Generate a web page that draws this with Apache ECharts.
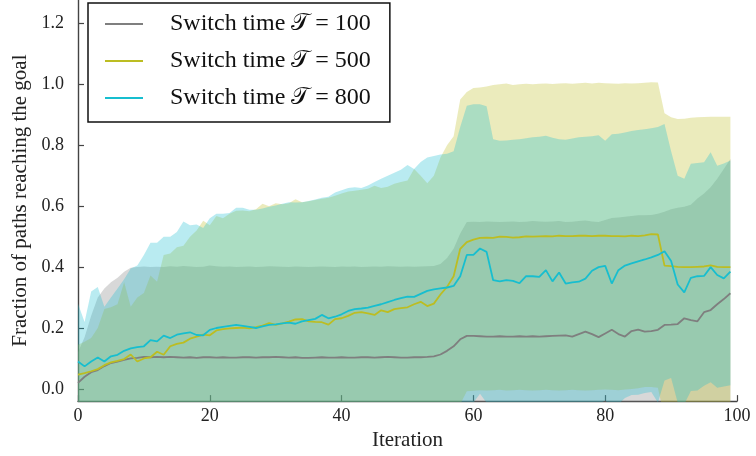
<!DOCTYPE html>
<html>
<head>
<meta charset="utf-8">
<script src="https://cdn.jsdelivr.net/npm/echarts@6/dist/echarts.min.js"></script>
<style>
  html, body { margin: 0; padding: 0; background: #fff; }
  #chart { width: 756px; height: 456px; }
</style>
</head>
<body>
<div id="chart"></div>
<script>
// Iteration categories 0..100 (data runs over 0..99, the axis ends at 100)
const iterations = Array.from({ length: 101 }, (_, i) => String(i));

// Switch time T = 100: mean and band
const grayMean = [
  0.02, 0.04, 0.055, 0.062, 0.075, 0.085, 0.09, 0.095, 0.1, 0.102,
  0.105, 0.104, 0.105, 0.104, 0.105, 0.104, 0.103, 0.104, 0.102, 0.104,
  0.104, 0.103, 0.104, 0.103, 0.103, 0.104, 0.104, 0.103, 0.104, 0.104,
  0.105, 0.104, 0.103, 0.104, 0.102, 0.102, 0.103, 0.104, 0.103, 0.103,
  0.104, 0.103, 0.103, 0.104, 0.104, 0.103, 0.104, 0.105, 0.104, 0.103,
  0.103, 0.104, 0.104, 0.105, 0.107, 0.113, 0.125, 0.14, 0.163, 0.174,
  0.174, 0.173, 0.172, 0.172, 0.173, 0.172, 0.172, 0.173, 0.172, 0.173,
  0.172, 0.173, 0.174, 0.175, 0.176, 0.172, 0.18, 0.188, 0.18, 0.17,
  0.182, 0.194, 0.18, 0.172, 0.19, 0.195, 0.188, 0.19, 0.194, 0.21,
  0.211, 0.213, 0.232, 0.226, 0.222, 0.252, 0.259, 0.278, 0.295, 0.314
];
const grayUpper = [
  0.12, 0.17, 0.24, 0.30, 0.33, 0.35, 0.365, 0.385, 0.398, 0.40,
  0.402, 0.40, 0.401, 0.40, 0.403, 0.401, 0.404, 0.402, 0.40, 0.401,
  0.405, 0.403, 0.401, 0.402, 0.40, 0.401, 0.402, 0.40, 0.401, 0.403,
  0.402, 0.401, 0.40, 0.402, 0.401, 0.40, 0.401, 0.402, 0.401, 0.40,
  0.402, 0.401, 0.402, 0.40, 0.401, 0.402, 0.401, 0.403, 0.402, 0.401,
  0.402, 0.401, 0.402, 0.403, 0.404, 0.41, 0.43, 0.46, 0.51, 0.548,
  0.549, 0.548, 0.55, 0.549, 0.548, 0.549, 0.55, 0.548, 0.549, 0.551,
  0.55, 0.549, 0.55, 0.551, 0.548, 0.549, 0.551, 0.553, 0.55, 0.548,
  0.555, 0.561, 0.563, 0.565, 0.568, 0.57, 0.57, 0.571, 0.575, 0.582,
  0.59, 0.595, 0.598, 0.605, 0.625, 0.642, 0.662, 0.69, 0.722, 0.755
];
const grayLower = [
  -0.08, -0.09, -0.13, -0.176, -0.18, -0.18, -0.185, -0.195, -0.198, -0.196,
  -0.192, -0.192, -0.191, -0.192, -0.193, -0.193, -0.198, -0.194, -0.196, -0.193,
  -0.197, -0.197, -0.193, -0.196, -0.194, -0.193, -0.194, -0.194, -0.193, -0.195,
  -0.192, -0.193, -0.194, -0.194, -0.197, -0.196, -0.195, -0.194, -0.195, -0.194,
  -0.194, -0.195, -0.196, -0.192, -0.193, -0.196, -0.193, -0.193, -0.194, -0.195,
  -0.196, -0.193, -0.194, -0.193, -0.19, -0.184, -0.18, -0.18, -0.184, -0.2,
  -0.201, -0.202, -0.206, -0.205, -0.202, -0.205, -0.206, -0.202, -0.205, -0.205,
  -0.206, -0.203, -0.202, -0.201, -0.196, -0.205, -0.191, -0.177, -0.19, -0.208,
  -0.191, -0.173, -0.203, -0.221, -0.188, -0.18, -0.194, -0.191, -0.187, -0.162,
  -0.168, -0.169, -0.134, -0.153, -0.181, -0.138, -0.144, -0.134, -0.132, -0.127
];

// Switch time T = 500: mean and band
const yellowMean = [
  0.047, 0.052, 0.058, 0.065, 0.078, 0.087, 0.092, 0.098, 0.113, 0.09,
  0.1, 0.104, 0.122, 0.112, 0.14, 0.148, 0.152, 0.165, 0.172, 0.178,
  0.176, 0.192, 0.196, 0.199, 0.2, 0.201, 0.199, 0.203, 0.208, 0.216,
  0.21, 0.215, 0.221, 0.228, 0.229, 0.222, 0.22, 0.219, 0.211, 0.229,
  0.232, 0.24, 0.25, 0.252, 0.248, 0.243, 0.258, 0.252, 0.262, 0.265,
  0.268, 0.278, 0.286, 0.272, 0.28, 0.31, 0.335, 0.37, 0.46, 0.482,
  0.49, 0.496, 0.497, 0.496, 0.5, 0.499, 0.497, 0.498, 0.501, 0.5,
  0.501, 0.502, 0.501, 0.503, 0.502, 0.502, 0.503, 0.503, 0.502, 0.503,
  0.503, 0.502, 0.502, 0.501, 0.503, 0.502, 0.504, 0.508, 0.507, 0.405,
  0.403, 0.401, 0.4, 0.4, 0.401, 0.402, 0.406, 0.401, 0.4, 0.4
];
const yellowUpper = [
  0.145, 0.155, 0.167, 0.2, 0.262, 0.268, 0.278, 0.35, 0.27, 0.3,
  0.315, 0.372, 0.352, 0.44, 0.445, 0.465, 0.47, 0.5, 0.52, 0.552,
  0.537, 0.568, 0.56, 0.575, 0.585, 0.586, 0.583, 0.59, 0.608, 0.6,
  0.61, 0.606, 0.61, 0.623, 0.613, 0.616, 0.62, 0.624, 0.628, 0.634,
  0.642, 0.648, 0.651, 0.654, 0.657, 0.667, 0.66, 0.664, 0.674, 0.679,
  0.684, 0.722, 0.70, 0.675, 0.70, 0.76, 0.8, 0.83, 0.95, 0.975,
  0.988, 0.99, 0.993, 0.998, 1.0, 1.003, 0.998, 1.0, 1.002, 1.0,
  1.002, 1.003, 1.001, 1.003, 1.004, 1.002, 1.004, 1.005, 1.003, 1.005,
  1.004, 1.003, 1.002, 1.004, 1.003, 1.004, 1.005, 1.007, 1.006, 0.905,
  0.892, 0.886, 0.887, 0.89, 0.892, 0.893, 0.894, 0.894, 0.894, 0.894
];
const yellowLower = [
  -0.06, -0.06, -0.065, -0.07, -0.1, -0.095, -0.095, -0.15, -0.06, -0.12,
  -0.115, -0.16, -0.11, -0.2, -0.165, -0.17, -0.165, -0.17, -0.175, -0.195,
  -0.185, -0.185, -0.17, -0.175, -0.185, -0.185, -0.185, -0.185, -0.19, -0.17,
  -0.19, -0.175, -0.17, -0.165, -0.155, -0.17, -0.18, -0.185, -0.205, -0.175,
  -0.18, -0.17, -0.15, -0.15, -0.16, -0.18, -0.145, -0.16, -0.15, -0.15,
  -0.15, -0.17, -0.12, -0.115, -0.12, -0.13, -0.13, -0.09, -0.05, -0.008,
  -0.006, -0.004, -0.005, -0.004, -0.003, -0.005, -0.004, -0.003, -0.004, -0.005,
  -0.004, -0.003, -0.004, -0.005, -0.004, -0.003, -0.004, -0.005, -0.004, -0.003,
  -0.002, -0.003, -0.004, -0.002, 0.0, 0.002, 0.006, 0.006, 0.004, -0.095,
  -0.086, -0.084, -0.087, -0.09, -0.09, -0.089, -0.082, -0.092, -0.094, -0.094
];

// Switch time T = 800: mean and band
const cyanMean = [
  0.09, 0.074, 0.09, 0.103, 0.09, 0.107, 0.112, 0.125, 0.133, 0.137,
  0.14, 0.16, 0.156, 0.175, 0.167, 0.178, 0.182, 0.186, 0.177, 0.176,
  0.194, 0.2, 0.204, 0.207, 0.21, 0.207, 0.204, 0.2, 0.205, 0.21,
  0.212, 0.215, 0.218, 0.214, 0.222, 0.226, 0.23, 0.243, 0.232, 0.237,
  0.245, 0.256, 0.262, 0.264, 0.267, 0.273, 0.278, 0.285, 0.292, 0.298,
  0.303, 0.302, 0.312, 0.322, 0.327, 0.33, 0.333, 0.338, 0.37, 0.44,
  0.44, 0.461, 0.45, 0.357, 0.353, 0.357, 0.355, 0.347, 0.37, 0.37,
  0.368, 0.39, 0.353, 0.382, 0.346, 0.35, 0.352, 0.362, 0.388, 0.40,
  0.404, 0.346, 0.39, 0.405, 0.412, 0.419, 0.425, 0.432, 0.44, 0.452,
  0.42, 0.343, 0.317, 0.365, 0.37, 0.371, 0.40, 0.374, 0.363, 0.385
];
const cyanUpper = [
  0.28, 0.22, 0.32, 0.335, 0.27, 0.3, 0.33, 0.36, 0.395, 0.405,
  0.44, 0.48, 0.48, 0.5, 0.5, 0.515, 0.55, 0.537, 0.54, 0.528,
  0.56, 0.575, 0.575, 0.578, 0.595, 0.595, 0.588, 0.588, 0.592, 0.598,
  0.602, 0.608, 0.613, 0.612, 0.613, 0.617, 0.622, 0.628, 0.631, 0.645,
  0.652, 0.66, 0.662, 0.66, 0.668, 0.679, 0.69, 0.7, 0.71, 0.72,
  0.735, 0.722, 0.745, 0.76, 0.765, 0.77, 0.772, 0.78, 0.86, 0.93,
  0.935, 0.935, 0.928, 0.82, 0.815, 0.816, 0.818, 0.82, 0.823, 0.826,
  0.828, 0.831, 0.825, 0.82, 0.818, 0.822, 0.826, 0.828, 0.83, 0.833,
  0.815, 0.836, 0.838, 0.842, 0.847, 0.85, 0.853, 0.856, 0.86, 0.87,
  0.78, 0.70, 0.69, 0.739, 0.742, 0.744, 0.777, 0.733, 0.74, 0.75
];
const cyanLower = [
  -0.1, -0.072, -0.14, -0.13, -0.09, -0.086, -0.106, -0.11, -0.129, -0.131,
  -0.16, -0.16, -0.168, -0.15, -0.166, -0.159, -0.186, -0.165, -0.186, -0.176,
  -0.172, -0.175, -0.167, -0.164, -0.175, -0.181, -0.18, -0.188, -0.182, -0.178,
  -0.178, -0.178, -0.177, -0.184, -0.169, -0.165, -0.162, -0.142, -0.167, -0.171,
  -0.162, -0.148, -0.138, -0.132, -0.134, -0.133, -0.134, -0.13, -0.126, -0.124,
  -0.129, -0.118, -0.121, -0.116, -0.111, -0.11, -0.106, -0.104, -0.12, -0.05,
  -0.045, -0.016, -0.045, -0.06, -0.058, -0.06, -0.058, -0.06, -0.06, -0.058,
  -0.06, -0.058, -0.06, -0.056, -0.06, -0.06, -0.058, -0.06, -0.054, -0.05,
  -0.038, -0.06, -0.05, -0.03, -0.02, -0.019, -0.013, -0.01, -0.045, 0.028,
  0.036, -0.045, -0.05, -0.007, -0.005, 0.01, 0.022, 0.004, 0.008, 0.012
];

// Axis ticks
const yTicks = [0.0, 0.2, 0.4, 0.6, 0.8, 1.0, 1.2];
const xTickStep = 20;

const seriesInfo = [
  { name: 'Switch time 𝒯 = 100', color: '#7f7f7f', mean: grayMean, upper: grayUpper, lower: grayLower, key: 'g' },
  { name: 'Switch time 𝒯 = 500', color: '#bcbd22', mean: yellowMean, upper: yellowUpper, lower: yellowLower, key: 'y' },
  { name: 'Switch time 𝒯 = 800', color: '#17becf', mean: cyanMean, upper: cyanUpper, lower: cyanLower, key: 'c' }
];

const serif = 'Liberation Serif, Times New Roman, serif';

const series = [];
// Shaded bands: invisible lower edge, band height stacked on top of it
seriesInfo.forEach(s => {
  series.push({
    name: s.key + '-lower', type: 'line', stack: s.key, stackStrategy: 'all',
    data: s.lower, symbol: 'none', silent: true,
    lineStyle: { opacity: 0 }
  });
  series.push({
    name: s.key + '-band', type: 'line', stack: s.key, stackStrategy: 'all',
    data: s.upper.map((u, i) => u - s.lower[i]), symbol: 'none', silent: true,
    lineStyle: { opacity: 0 },
    areaStyle: { color: s.color, opacity: 0.3 }
  });
});
// Mean curves
seriesInfo.forEach(s => {
  series.push({
    name: s.name, type: 'line', data: s.mean, symbol: 'none',
    lineStyle: { color: s.color, width: 1.8 }, itemStyle: { color: s.color }
  });
});

const chart = echarts.init(document.getElementById('chart'), null, { renderer: 'canvas' });
chart.setOption({
  animation: false,
  backgroundColor: '#fff',
  grid: { left: 78, right: 19, top: 0, bottom: 53 },
  legend: {
    data: seriesInfo.map(s => s.name),
    orient: 'vertical',
    left: 88, top: 3,
    padding: [9, 19, 12, 17],
    icon: 'rect',
    itemWidth: 38, itemHeight: 2, itemGap: 13,
    borderColor: '#111', borderWidth: 1.5, borderRadius: 0,
    backgroundColor: '#fff',
    textStyle: { fontFamily: serif, fontSize: 24, lineHeight: 24, color: '#111', padding: [0, 0, 0, 22] }
  },
  xAxis: {
    type: 'category', data: iterations, boundaryGap: false,
    name: 'Iteration', nameLocation: 'middle', nameGap: 28,
    nameTextStyle: { fontFamily: serif, fontSize: 21, color: '#222' },
    axisLine: { show: true, onZero: false, lineStyle: { color: '#444', width: 1.4 } },
    axisTick: { show: true, inside: true, length: 6, interval: xTickStep - 1, lineStyle: { color: '#444', width: 1.2 } },
    axisLabel: { fontFamily: serif, fontSize: 18, color: '#222', margin: 6, interval: xTickStep - 1 },
    splitLine: { show: false }
  },
  yAxis: {
    type: 'value', min: -0.04, max: 1.277,
    name: 'Fraction of paths reaching the goal', nameLocation: 'middle', nameGap: 31,
    nameTextStyle: { fontFamily: serif, fontSize: 21, color: '#222' },
    axisLine: { show: true, lineStyle: { color: '#444', width: 1.4 } },
    axisTick: { show: true, inside: true, length: 6, lineStyle: { color: '#444', width: 1.2 }, customValues: yTicks },
    axisLabel: { fontFamily: serif, fontSize: 18, color: '#222', margin: 14, customValues: yTicks,
      formatter: v => v.toFixed(1) },
    splitLine: { show: false }
  },
  series: series
});
</script>
</body>
</html>
